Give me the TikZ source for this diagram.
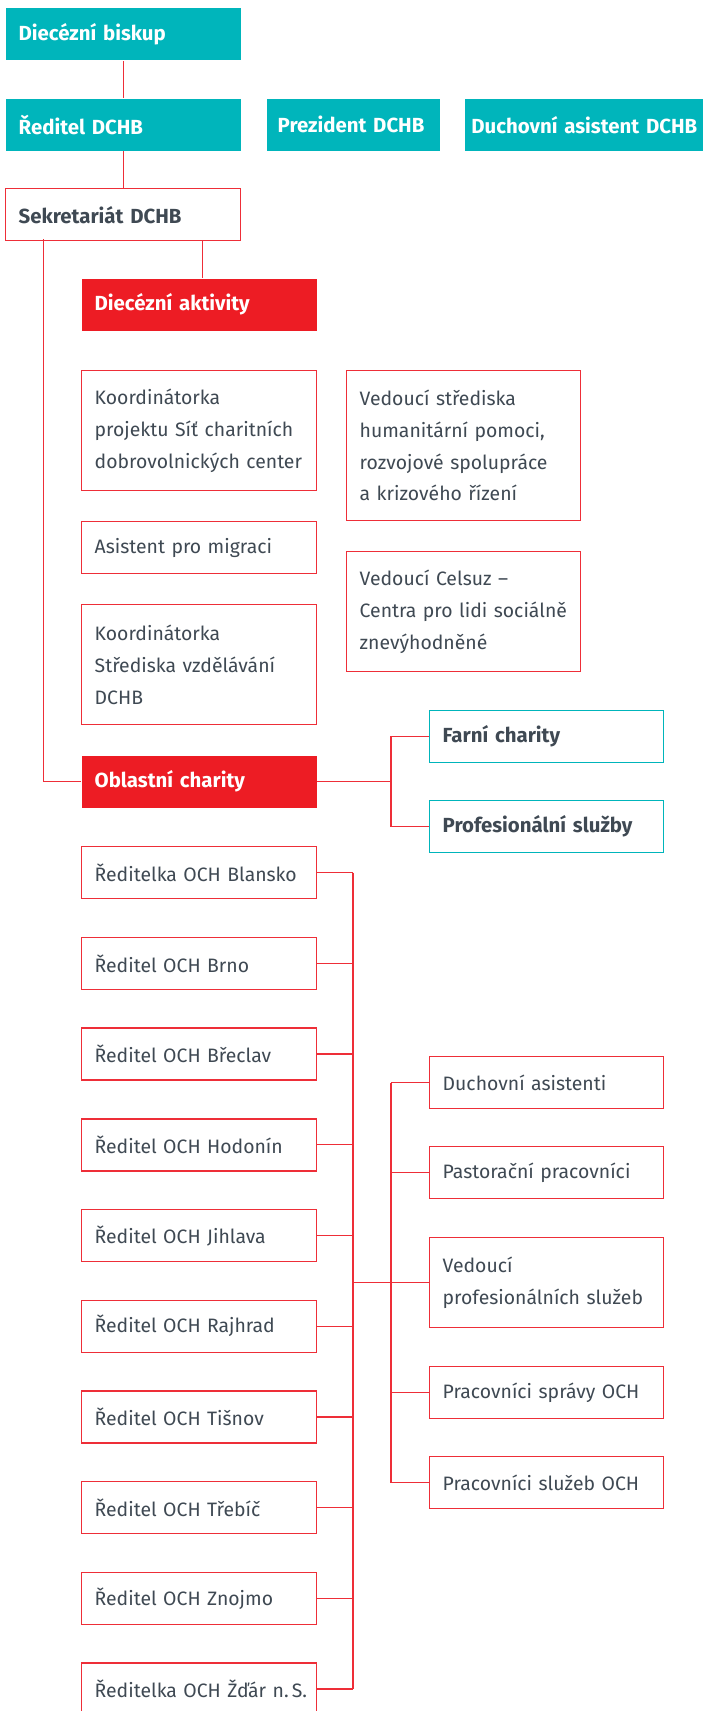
\documentclass[tikz,border=0pt]{standalone}
\usepackage{fontspec}
\setmainfont{Fira Sans}
\usetikzlibrary{positioning}

\definecolor{chteal}{HTML}{00B5BB}
\definecolor{chred}{HTML}{ED1C24}
\definecolor{chline}{HTML}{EE2E38}
\definecolor{chgray}{HTML}{3F4953}

\newcommand\nohyph{\hyphenpenalty=10000\exhyphenpenalty=10000\hbadness=10000\hfuzz=20pt}

\tikzset{
  box/.style={draw=chline, line width=1.4pt, fill=white, anchor=north west,
    inner xsep=13pt, inner ysep=0pt, minimum height=52pt, text width=209pt,
    align=left, text=chgray, font=\fontsize{19.4}{31.7}\selectfont\nohyph},
  headbox/.style={box, draw=none, fill=chteal, text=white, font=\fontsize{20.4}{31.7}\selectfont\bfseries\nohyph},
  redbox/.style={box, draw=none, fill=chred, text=white, font=\fontsize{20.4}{31.7}\selectfont\bfseries\nohyph},
  boldbox/.style={box, font=\fontsize{20.4}{31.7}\selectfont\bfseries\nohyph},
  tealline/.style={draw=chteal},
  link/.style={draw=chline, line width=1.3pt}
}

\begin{document}
\begin{tikzpicture}[x=1pt, y=-1pt]
\useasboundingbox (0,0) rectangle (702,1711);

% vedeni
\node[headbox] (biskup) at (5,7.6) {Diecézní biskup};
\node[headbox] (reditel) at (5,98) {Ředitel DCHB};
\node[headbox, inner xsep=11pt, text width=151pt] (prezident) at (266,98) {Prezident DCHB};
\node[headbox, inner xsep=5.5pt, text width=227pt, align=right] (duchasist) at (464,98) {Duchovní asistent DCHB};
\node[boldbox] (sekret) at (5,188) {Sekretariát DCHB};

% diecezni aktivity
\node[redbox] (aktivity) at (81,278) {Diecézní aktivity};
\node[box, minimum height=120pt] (sitcenter) at (81,370) {Koordinátorka\\projektu Síť~charitních\\dobrovolnických~center};
\node[box] (migrace) at (81,521) {Asistent pro migraci};
\node[box, minimum height=120pt] (vzdelavani) at (81,604) {Koordinátorka\\Střediska~vzdělávání\\DCHB};
\node[box, text width=208pt, minimum height=150pt] (humanit) at (346,370) {Vedoucí střediska\\humanitární~pomoci,\\rozvojové~spolupráce\\a krizového řízení};
\node[box, text width=208pt, minimum height=120pt] (celsuz) at (346,551) {Vedoucí Celsuz –\\Centra~pro~lidi~sociálně\\znevýhodněné};

% oblastni charity
\node[redbox] (oblastni) at (81,755) {Oblastní charity};
\node[boldbox, tealline, text width=208pt] (farni) at (429,710) {Farní charity};
\node[boldbox, tealline, text width=208pt] (profes) at (429,800) {Profesionální služby};

\foreach \name/\txt [count=\i from 0] in {
    blansko/Ředitelka OCH Blansko, brno/Ředitel OCH Brno,
    breclav/Ředitel OCH Břeclav, hodonin/Ředitel OCH Hodonín,
    jihlava/Ředitel OCH Jihlava, rajhrad/Ředitel OCH Rajhrad,
    tisnov/Ředitel OCH Tišnov, trebic/Ředitel OCH Třebíč,
    znojmo/Ředitel OCH Znojmo, zdar/Ředitelka~OCH~Žďár~n.\,S.}
  \node[box] (\name) at (81,846+90.7*\i) {\txt};

\node[box, text width=208pt] (duchovni) at (429,1056) {Duchovní asistenti};
\node[box, text width=208pt] (pastorace) at (429,1146) {Pastorační pracovníci};
\node[box, text width=208pt, minimum height=90pt] (vedprof) at (429,1237) {Vedoucí\\profesionálních~služeb};
\node[box, text width=208pt] (sprava) at (429,1366) {Pracovníci správy OCH};
\node[box, text width=208pt] (sluzby) at (429,1456) {Pracovníci služeb OCH};

% spojnice
\coordinate (spine) at (43.5,239);
\coordinate (ochbar) at (353,0);
\coordinate (fork) at (391,0);
\draw[link] (biskup) -- (reditel);
\draw[link] (reditel) -- (sekret);
\draw[link] ([xshift=3.5pt]aktivity.north) -- ([xshift=3.5pt]aktivity.north |- sekret.south);
\draw[link] (spine) |- (oblastni.west);
\draw[link] (oblastni.east) -- (oblastni.east -| fork);
\draw[link] (farni.west) -| (fork |- oblastni.east) |- (profes.west);
\foreach \name in {blansko,brno,breclav,hodonin,jihlava,rajhrad,tisnov,trebic,znojmo,zdar}
  \draw[link] (\name.east) -- (\name.east -| ochbar);
\draw[link] (blansko.east -| ochbar) -- (zdar.east -| ochbar);
\draw[link] (vedprof.west -| ochbar) -- (vedprof.west);
\foreach \name in {duchovni,pastorace,sprava,sluzby}
  \draw[link] (\name.west) -- (\name.west -| fork);
\draw[link] (duchovni.west -| fork) -- (sluzby.west -| fork);
\end{tikzpicture}
\end{document}
